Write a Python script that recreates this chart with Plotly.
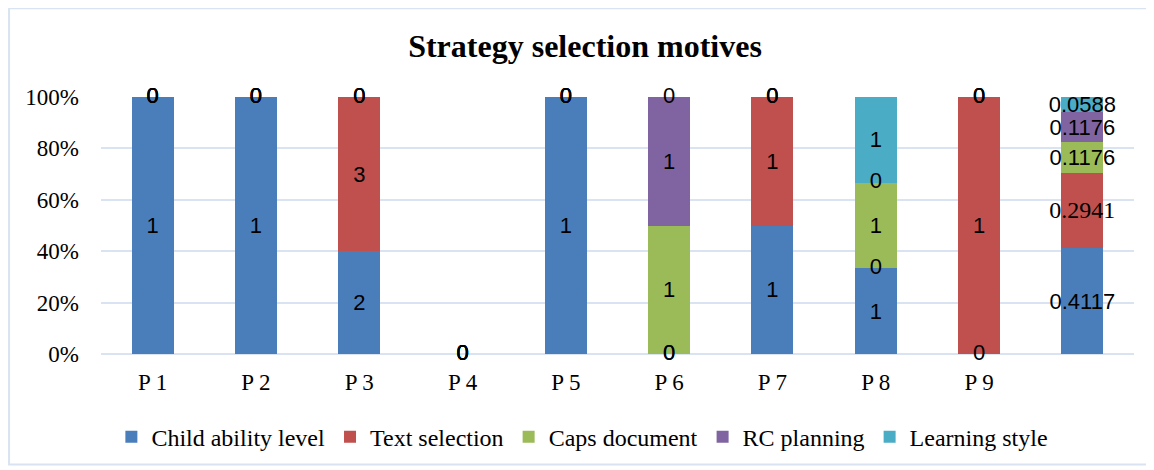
import plotly.graph_objects as go

# --- data -------------------------------------------------------------
categories = ["P 1", "P 2", "P 3", "P 4", "P 5", "P 6", "P 7", "P 8", "P 9", "All"]
tick_labels = ["P 1", "P 2", "P 3", "P 4", "P 5", "P 6", "P 7", "P 8", "P 9", ""]

series_names = ["Child ability level", "Text selection", "Caps document",
                "RC planning", "Learning style"]

child_ability = [1, 1, 2, 0, 1, 0, 1, 1, 0, 0.4117]
text_selection = [0, 0, 3, 0, 0, 0, 1, 0, 1, 0.2941]
caps_document = [0, 0, 0, 0, 0, 1, 0, 1, 0, 0.1176]
rc_planning = [0, 0, 0, 0, 0, 1, 0, 0, 0, 0.1176]
learning_style = [0, 0, 0, 0, 0, 0, 0, 1, 0, 0.0588]

colors = ["#4A7EBB", "#C0504D", "#9BBB59", "#8064A2", "#4BACC6"]

SERIF = "Liberation Serif"
SANS = "Liberation Sans"

all_series = [child_ability, text_selection, caps_document, rc_planning, learning_style]
totals = [sum(vals) for vals in zip(*all_series)]

fig = go.Figure()

for name, vals, color in zip(series_names, all_series, colors):
    labels = [f"{v:g}" if v != 0 else "" for v in vals]
    # the summary column in the source uses a serif face for the red label
    families = [SANS] * len(vals)
    sizes = [22] * len(vals)
    if name == "Text selection":
        families[-1] = SERIF
        sizes[-1] = 24
    fig.add_trace(go.Bar(
        x=categories,
        y=vals,
        name=name,
        marker=dict(color=color, line=dict(width=0)),
        text=labels,
        textposition="inside",
        insidetextanchor="middle",
        textangle=0,
        constraintext="none",
        textfont=dict(family=families, size=sizes, color="black"),
        cliponaxis=False,
    ))

# zero-value labels sit on the segment boundaries
zx, zy = [], []
for i, cat in enumerate(categories):
    running = 0
    for vals in all_series:
        if vals[i] == 0:
            zx.append(cat)
            zy.append(running / totals[i] if totals[i] else 0)
        running += vals[i]

fig.add_trace(go.Scatter(
    x=zx, y=zy, mode="text", text=["0"] * len(zx),
    textfont=dict(family=SANS, size=22, color="black"),
    showlegend=False, hoverinfo="skip", cliponaxis=False,
))

# page has an 8px body margin, so the figure is sized to fit the window
fig.update_layout(
    barmode="stack",
    barnorm="fraction",
    bargap=0.593,
    width=1146,
    height=462,
    margin=dict(l=93, r=20, t=89, b=115),
    font=dict(family=SERIF, size=23, color="black"),
    paper_bgcolor="white",
    plot_bgcolor="white",
    title=dict(
        text="<b>Strategy selection motives</b>",
        x=577 / 1146, xref="container", xanchor="center",
        y=1 - 38 / 462, yref="container", yanchor="middle",
        font=dict(family=SERIF, size=32, color="black"),
    ),
    legend=dict(
        orientation="h",
        x=0.466, xanchor="center",
        y=-0.318, yanchor="middle",
        traceorder="normal",
        font=dict(family=SERIF, size=24, color="black"),
    ),
    shapes=[dict(
        type="rect", xref="paper", yref="paper",
        x0=-0.089, x1=1.0136, y0=-0.43, y1=1.345,
        line=dict(color="#D9E3F1", width=2), layer="below",
    )],
)

fig.update_xaxes(
    tickmode="array", tickvals=categories, ticktext=tick_labels,
    tickfont=dict(family=SERIF, size=23, color="black"),
    showgrid=False, showline=False, ticks="",
    ticklabelstandoff=12,
)
fig.update_yaxes(
    range=[0, 1], dtick=0.2, tickformat=".0%",
    tickfont=dict(family=SERIF, size=23, color="black"),
    showgrid=True, gridcolor="#D9E3F1", gridwidth=2,
    zeroline=True, zerolinecolor="#D9E3F1", zerolinewidth=2,
    showline=False, ticks="",
    ticklabelstandoff=21,
)

fig.write_html("out.html")
